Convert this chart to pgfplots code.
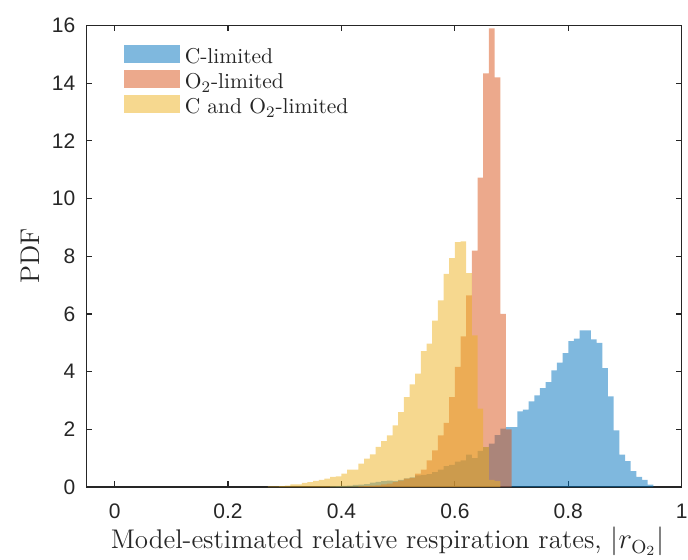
\documentclass[border=0pt]{standalone}
\usepackage{fontspec}
\usepackage{pgfplots}
\usepackage{pgfplotstable}
\pgfplotsset{compat=1.18}
\newfontfamily\tickfont{Liberation Sans}
\definecolor{mblue}{rgb}{0,0.447,0.741}
\definecolor{morange}{rgb}{0.85,0.325,0.098}
\definecolor{myellow}{rgb}{0.929,0.694,0.125}
\definecolor{axgray}{rgb}{0.15,0.15,0.15}

% C-limited (left bin edges, PDF)
\pgfplotstableread{
x y
0.38 0.02
0.39 0.03
0.40 0.04
0.41 0.05
0.42 0.07
0.43 0.08
0.44 0.10
0.45 0.15
0.46 0.18
0.47 0.20
0.48 0.22
0.49 0.20
0.50 0.25
0.51 0.30
0.52 0.33
0.53 0.40
0.54 0.42
0.55 0.45
0.56 0.52
0.57 0.60
0.58 0.72
0.59 0.77
0.60 0.88
0.61 0.92
0.62 1.12
0.63 1.00
0.64 1.25
0.65 1.38
0.66 1.50
0.67 1.80
0.68 2.02
0.69 2.08
0.70 2.08
0.71 2.62
0.72 2.68
0.73 2.97
0.74 3.18
0.75 3.43
0.76 3.64
0.77 4.04
0.78 4.31
0.79 4.64
0.80 5.06
0.81 5.14
0.82 5.43
0.83 5.43
0.84 5.12
0.85 5.00
0.86 4.12
0.87 3.14
0.88 1.96
0.89 1.12
0.90 0.90
0.91 0.55
0.92 0.35
0.93 0.25
0.94 0.08
0.95 0
}\climited

% O2-limited
\pgfplotstableread{
x y
0.43 0.02
0.44 0.03
0.45 0.05
0.46 0.06
0.47 0.09
0.48 0.12
0.49 0.17
0.50 0.22
0.51 0.29
0.52 0.32
0.53 0.46
0.54 0.60
0.55 0.92
0.56 1.27
0.57 1.79
0.58 2.22
0.59 3.12
0.60 4.16
0.61 5.22
0.62 6.64
0.63 8.19
0.64 10.72
0.65 14.34
0.66 15.90
0.67 14.20
0.68 6.00
0.69 2.00
0.70 0
}\olimited

% C and O2-limited
\pgfplotstableread{
x y
0.27 0.02
0.28 0.02
0.29 0.03
0.30 0.05
0.31 0.09
0.32 0.09
0.33 0.14
0.34 0.17
0.35 0.21
0.36 0.25
0.37 0.29
0.38 0.35
0.39 0.37
0.40 0.46
0.41 0.60
0.42 0.60
0.43 0.81
0.44 0.98
0.45 1.13
0.46 1.39
0.47 1.59
0.48 1.79
0.49 2.14
0.50 2.60
0.51 3.12
0.52 3.56
0.53 3.93
0.54 4.71
0.55 4.97
0.56 5.77
0.57 6.47
0.58 7.39
0.59 7.93
0.60 8.49
0.61 8.51
0.62 7.41
0.63 5.26
0.64 2.72
0.65 1.38
0.66 0.25
0.67 0.20
0.68 0
}\bothlimited

\begin{document}
\begin{tikzpicture}
\useasboundingbox (-43.15pt,-36pt) rectangle (300.85pt,243.5pt);
\begin{axis}[
  at={(0,0)}, anchor=south west,
  scale only axis, width=297.7pt, height=230.8pt,
  xmin=-0.05, xmax=1, ymin=0, ymax=16,
  xtick={0,0.2,0.4,0.6,0.8,1},
  xticklabels={0,0.2,0.4,0.6,0.8,1},
  ytick={0,2,4,6,8,10,12,14,16},
  yticklabels={0,2,4,6,8,10,12,14,16},
  tick align=inside,
  major tick length=3pt,
  axis line style={axgray, line width=0.6pt},
  tick style={axgray, line width=0.6pt},
  /pgf/number format/assume math mode=true,
  ticklabel style={font=\tickfont\fontsize{10.5}{12}\selectfont, text=axgray},
  xticklabel style={yshift=-5pt},
  yticklabel style={xshift=-2pt},
  xlabel={Model-estimated relative respiration rates, $|r_{\mathrm{O}_2}|$},
  ylabel={PDF},
  label style={font=\fontsize{13.5}{15}\selectfont, text=axgray},
  xlabel style={at={(axis description cs:0.506,-0.118)}, anchor=center},
  ylabel style={at={(axis description cs:-0.0946,0.5)}, anchor=center, rotate=0},
  legend style={at={(rel axis cs:0.063,0.958)}, anchor=north west, draw=none, fill=none,
    inner sep=0pt, outer sep=0pt, row sep=0.5pt, column sep=2.5pt,
    font=\fontsize{10.75}{12}\selectfont,
    nodes={inner sep=0pt, text height=7.5pt, text depth=2.5pt, text=axgray}},
  legend cell align=left,
  legend image code/.code={\fill[#1] (0pt,-2pt) rectangle (28pt,7pt);},
]
\addplot[const plot, draw=none, fill=mblue, fill opacity=0.5] table[x=x,y=y] {\climited} \closedcycle;
\addplot[const plot, draw=none, fill=morange, fill opacity=0.5] table[x=x,y=y] {\olimited} \closedcycle;
\addplot[const plot, draw=none, fill=myellow, fill opacity=0.5] table[x=x,y=y] {\bothlimited} \closedcycle;
\legend{C-limited, O$_2$-limited, C and O$_2$-limited}
\end{axis}
\end{tikzpicture}
\end{document}
